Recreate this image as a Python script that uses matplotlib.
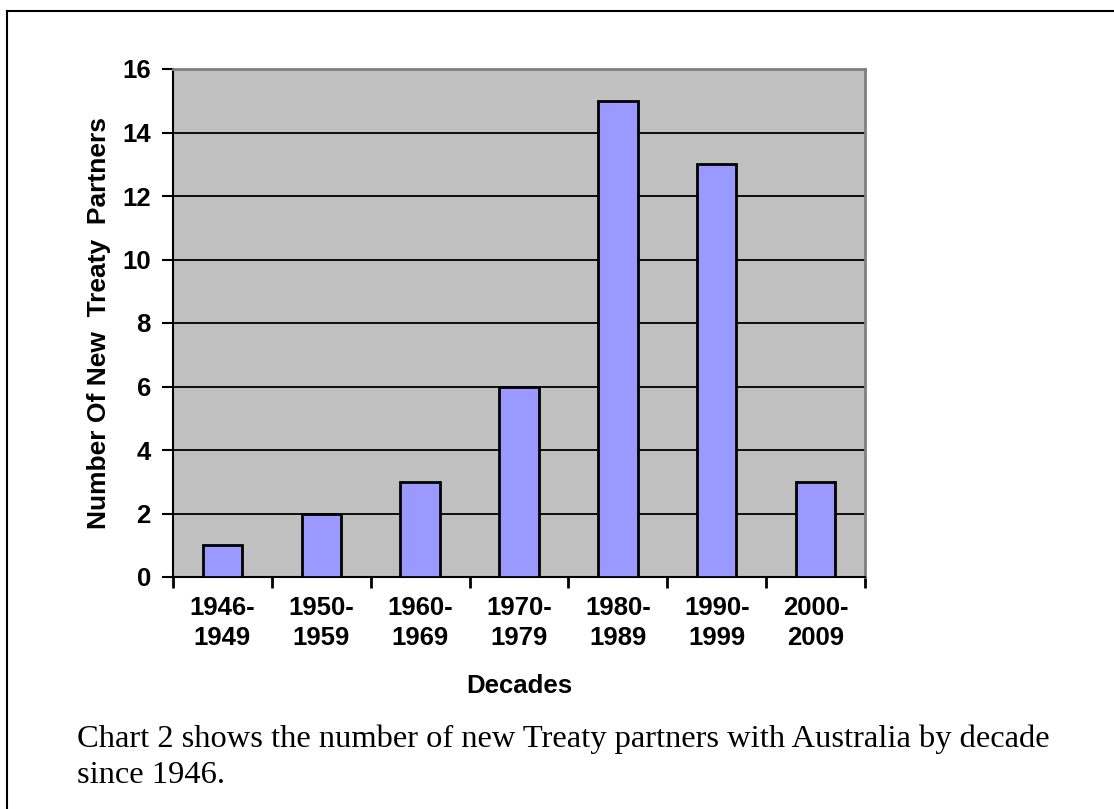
import matplotlib.pyplot as plt
from matplotlib.lines import Line2D

decades = ["1946-\n1949", "1950-\n1959", "1960-\n1969", "1970-\n1979",
           "1980-\n1989", "1990-\n1999", "2000-\n2009"]
partners = [1, 2, 3, 6, 15, 13, 3]
y_ticks = [0, 2, 4, 6, 8, 10, 12, 14, 16]

caption_lines = ["Chart 2 shows the number of new Treaty partners with Australia by decade",
                 "since 1946."]

W, H = 1114, 809
fig = plt.figure(figsize=(W / 100, H / 100), dpi=100)
fig.patch.set_facecolor("white")

# plot area in pixels: x 173..865, y 69..577
ax = fig.add_axes([173 / W, 1 - 577 / H, (865 - 173) / W, (577 - 69) / H])
ax.set_facecolor("#C0C0C0")

fs = 18.5
sans = "Liberation Sans"

x = list(range(len(decades)))
ax.set_axisbelow(True)
ax.yaxis.grid(True, color="black", linewidth=1.3)
ax.bar(x, partners, width=0.4, color="#9999FF", edgecolor="black", linewidth=2, zorder=3)

ax.set_xlim(-0.5, len(decades) - 0.5)
ax.set_ylim(0, 16)
ax.set_yticks(y_ticks)
ax.set_yticklabels([str(v) for v in y_ticks], fontsize=fs, fontweight="bold", family=sans)

# category labels centred, ticks on the category boundaries
ax.set_xticks(x)
ax.set_xticklabels(decades, fontsize=fs, fontweight="bold", family=sans, linespacing=1.3)
ax.tick_params(axis="x", which="major", length=0, pad=14)
ax.set_xticks([i - 0.5 for i in range(len(decades) + 1)], minor=True)
ax.tick_params(axis="x", which="minor", length=8, width=2, direction="out", color="black")
ax.tick_params(axis="y", length=8, width=1.5, direction="out", color="black", pad=8)

for side in ["left", "bottom"]:
    ax.spines[side].set_color("black")
    ax.spines[side].set_linewidth(1.5)
for side in ["top", "right"]:
    ax.spines[side].set_color("#808080")
    ax.spines[side].set_linewidth(2)

ax.set_xlabel("Decades", fontsize=fs, fontweight="bold", family=sans)
ax.xaxis.set_label_coords(0.5, -0.19)
ax.set_ylabel("Number Of New  Treaty  Partners", fontsize=19, fontweight="bold", family=sans)
ax.yaxis.set_label_coords(-0.09, 0.5)

# page border (left and top only)
fig.add_artist(Line2D([7 / W, 7 / W], [0, 1 - 11 / H], transform=fig.transFigure,
                      color="black", linewidth=1.5))
fig.add_artist(Line2D([7 / W, 1], [1 - 11 / H, 1 - 11 / H], transform=fig.transFigure,
                      color="black", linewidth=1.5))

for i, line in enumerate(caption_lines):
    fig.text(77 / W, 1 - (747 + 36 * i) / H, line, fontsize=23.4,
             family="Liberation Serif", va="baseline", ha="left")

fig.savefig("out.png", dpi=100)
